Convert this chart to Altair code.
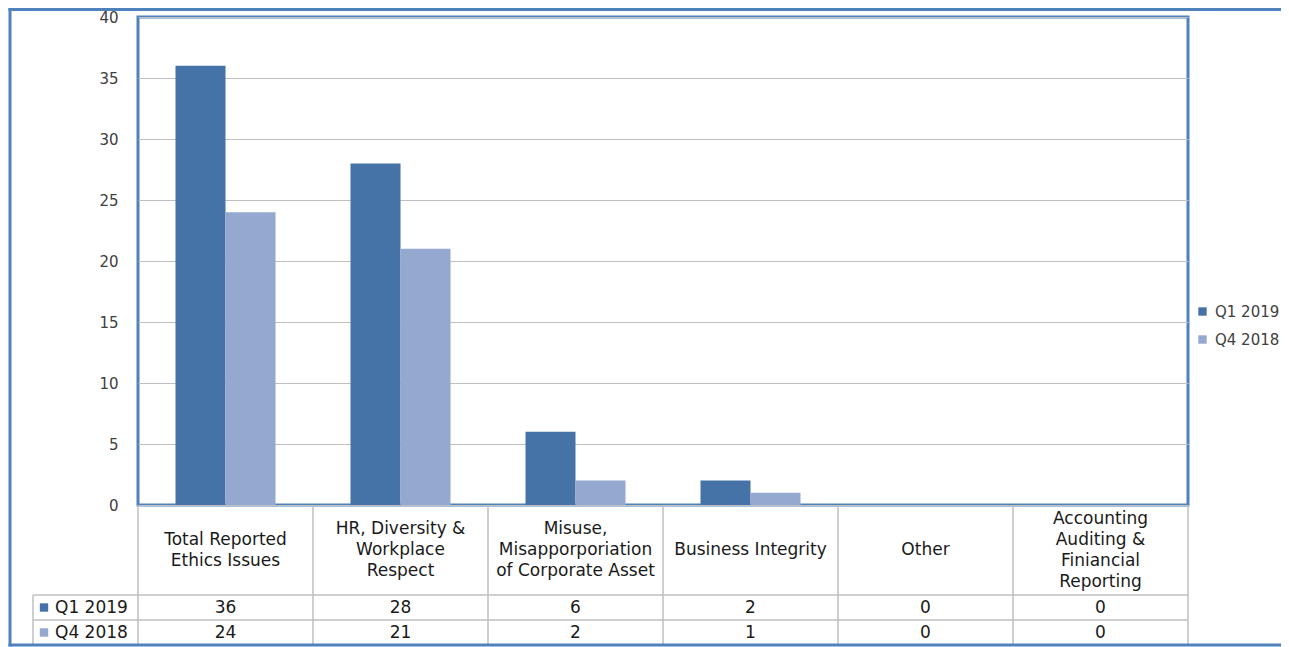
import altair as alt
import pandas as pd

categories = [
    "Total Reported Ethics Issues",
    "HR, Diversity & Workplace Respect",
    "Misuse, Misapporporiation of Corporate Asset",
    "Business Integrity",
    "Other",
    "Accounting Auditing & Finiancial Reporting",
]
header_labels = [
    "Total Reported\nEthics Issues",
    "HR, Diversity &\nWorkplace\nRespect",
    "Misuse,\nMisapporporiation\nof Corporate Asset",
    "Business Integrity",
    "Other",
    "Accounting\nAuditing &\nFiniancial\nReporting",
]
series_names = ["Q1 2019", "Q4 2018"]
q1_2019 = [36, 28, 6, 2, 0, 0]
q4_2018 = [24, 21, 2, 1, 0, 0]
colors = ["#4572A7", "#94A8D0"]

rows = []
for s, vals in zip(series_names, [q1_2019, q4_2018]):
    for c, v in zip(categories, vals):
        rows.append({"category": c, "series": s, "value": v})
df = pd.DataFrame(rows)
df_cat = pd.DataFrame({
    "category": categories,
    "label": header_labels,
    "nlines": [lab.count("\n") + 1 for lab in header_labels],
})
df_ser = pd.DataFrame({"series": series_names})
one = pd.DataFrame({"k": [0]})

FONT = "DejaVu Sans"
TXT = "#1a1a1a"
TS = 17  # table font size
W, H = 1050, 488
HEADER_BOTTOM = 578
ROW1_BOTTOM = 603
TABLE_BOTTOM = 628
GRID = "#bfbfbf"
BLUE = "#4F81BD"
LH = 21
RIGHT_EDGE = 1143  # right end of the canvas, relative to the plot's left side

xscale = alt.Scale(type="band", domain=categories, paddingInner=0, paddingOuter=0)
cscale = alt.Scale(domain=series_names, range=colors)
rowscale = alt.Scale(type="point", domain=series_names, range=[590.5, 615.5], padding=0)
legend = alt.Legend(
    title=None, orient="none", legendX=1057, legendY=287, symbolType="square",
    symbolSize=70, labelFontSize=15, labelFont=FONT, labelColor="#404040",
    labelOffset=5, rowPadding=12, symbolStrokeWidth=0,
)

bars = alt.Chart(df).mark_bar().encode(
    x=alt.X("category:N", scale=xscale, axis=None, sort=categories),
    xOffset=alt.XOffset("series:N", scale=alt.Scale(domain=series_names, paddingOuter=0.75, paddingInner=0)),
    y=alt.Y("value:Q", scale=alt.Scale(domain=[0, 40]),
            axis=alt.Axis(title=None, values=list(range(0, 41, 5)), grid=True, gridColor=GRID,
                          gridWidth=1, domain=False, ticks=False, labelPadding=20,
                          labelFontSize=15, labelFont=FONT, labelColor="#404040")),
    color=alt.Color("series:N", scale=cscale, legend=legend),
)

# table header text, one layer per line count so each block is centred in the header row
header_layers = []
for n in sorted(set(df_cat["nlines"])):
    header_layers.append(
        alt.Chart(df_cat).transform_filter(alt.datum.nlines == n).mark_text(
            lineBreak="\n", lineHeight=LH, fontSize=TS, font=FONT, color=TXT,
            baseline="middle", dy=-(n - 1) * LH / 2,
        ).encode(
            x=alt.X("category:N", scale=xscale, axis=None, bandPosition=0.5),
            y=alt.value((H + HEADER_BOTTOM) / 2),
            text="label:N",
        )
    )

# table values
values = alt.Chart(df).mark_text(fontSize=TS, font=FONT, color=TXT, baseline="middle").encode(
    x=alt.X("category:N", scale=xscale, axis=None, bandPosition=0.5),
    y=alt.Y("series:N", scale=rowscale, axis=None),
    text="value:Q",
)

# row label squares and names
row_sq = alt.Chart(df_ser).mark_point(shape="square", filled=True, size=70, opacity=1).encode(
    x=alt.value(-94),
    y=alt.Y("series:N", scale=rowscale, axis=None),
    color=alt.Color("series:N", scale=cscale, legend=legend),
)
row_txt = alt.Chart(df_ser).mark_text(fontSize=TS, font=FONT, color=TXT, align="left", baseline="middle").encode(
    x=alt.value(-83),
    y=alt.Y("series:N", scale=rowscale, axis=None),
    text="series:N",
)

# table grid lines
vlines = alt.Chart(df_cat).mark_rule(color=GRID, strokeWidth=1.5).encode(
    x=alt.X("category:N", scale=xscale, axis=None, bandPosition=0),
    y=alt.value(H), y2=alt.value(TABLE_BOTTOM),
)
vlast = alt.Chart(df_cat).transform_filter(
    alt.datum.category == categories[-1]
).mark_rule(color=GRID, strokeWidth=1.5).encode(
    x=alt.X("category:N", scale=xscale, axis=None, bandPosition=1),
    y=alt.value(H), y2=alt.value(TABLE_BOTTOM),
)
hl1 = alt.Chart(one).mark_rule(color=GRID, strokeWidth=1.5).encode(
    x=alt.value(-105), x2=alt.value(W), y=alt.value(HEADER_BOTTOM))
hl2 = alt.Chart(one).mark_rule(color=GRID, strokeWidth=1.5).encode(
    x=alt.value(-105), x2=alt.value(W), y=alt.value(ROW1_BOTTOM))
vleft = alt.Chart(one).mark_rule(color=GRID, strokeWidth=1.5).encode(
    x=alt.value(-105), y=alt.value(HEADER_BOTTOM), y2=alt.value(TABLE_BOTTOM))

# outer frame: top, left and bottom sides (the right side runs off the page)
frame_top = alt.Chart(one).mark_rule(color=BLUE, strokeWidth=3).encode(
    x=alt.value(-129.5), x2=alt.value(RIGHT_EDGE), y=alt.value(-7.5))
frame_left = alt.Chart(one).mark_rule(color=BLUE, strokeWidth=3).encode(
    x=alt.value(-128), y=alt.value(-9), y2=alt.value(TABLE_BOTTOM + 1.5))
frame_bottom = alt.Chart(one).mark_rule(color=BLUE, strokeWidth=3).encode(
    x=alt.value(-129.5), x2=alt.value(RIGHT_EDGE), y=alt.value(TABLE_BOTTOM))

chart = alt.layer(
    bars, vlines, vlast, hl1, hl2, vleft, *header_layers, values, row_sq, row_txt,
    frame_top, frame_left, frame_bottom
).resolve_scale(y="independent").properties(
    width=W, height=H,
    autosize=alt.AutoSizeParams(type="none"),
    padding={"left": 130, "top": 9, "right": 93, "bottom": 142},
).configure(
    font=FONT,
    view=alt.ViewConfig(stroke=BLUE, strokeWidth=3),
)

chart.save("out.html", embed_options={"renderer": "svg", "actions": False})
